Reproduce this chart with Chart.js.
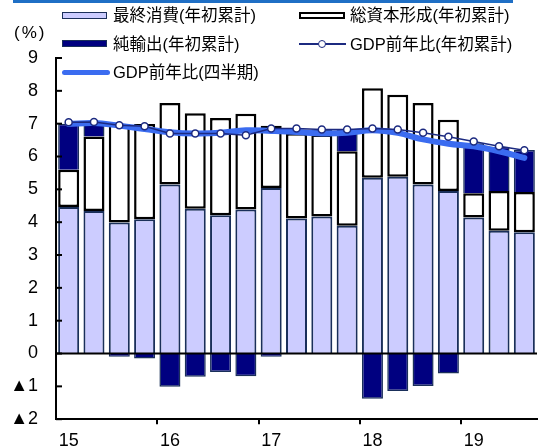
<!DOCTYPE html>
<html>
<head>
<meta charset="utf-8">
<script src="https://cdn.jsdelivr.net/npm/chart.js@4"></script>
<style>
  html, body { margin: 0; padding: 0; background: #fff; }
  #wrap { position: relative; width: 545px; height: 448px; overflow: hidden; }
  canvas { position: absolute; left: 0; top: 0; }
  .lg { position: absolute; font-family: "Liberation Sans", "Noto Sans CJK JP", sans-serif; font-size: 16.5px; color: #000; line-height: 18px; white-space: nowrap; }
  .mk { position: absolute; box-sizing: border-box; }
</style>
</head>
<body>
<div id="wrap">
  <canvas id="c" width="545" height="448"></canvas>
  <div class="mk" style="left:13px;top:0;width:500px;height:3px;background:#1f6fc5;"></div>
  <div class="lg" style="left:14px;top:24px;letter-spacing:2px;font-size:17px;">(%)</div>
  <div class="mk" style="left:62px;top:12px;width:45px;height:7px;background:#ccccff;border:1.5px solid #1a2f5a;"></div>
  <div class="lg" style="left:113px;top:6px;">最終消費(年初累計)</div>
  <div class="mk" style="left:299px;top:12px;width:46px;height:7px;background:#fff;border:2px solid #000;"></div>
  <div class="lg" style="left:350px;top:6px;">総資本形成(年初累計)</div>
  <div class="mk" style="left:62px;top:40px;width:45px;height:7px;background:#000080;border:1px solid #1a2f5a;"></div>
  <div class="lg" style="left:113px;top:35px;">純輸出(年初累計)</div>
  <div class="mk" style="left:299px;top:43px;width:47px;height:2px;background:#1c2a80;"></div>
  <div class="mk" style="left:318px;top:40px;width:8px;height:8px;background:#fff;border:1.5px solid #1c2a80;border-radius:50%;"></div>
  <div class="lg" style="left:350px;top:35px;">GDP前年比(年初累計)</div>
  <div class="mk" style="left:62px;top:69.5px;width:48px;height:5px;background:#3b6cf0;border-radius:3px;"></div>
  <div class="lg" style="left:113px;top:63px;">GDP前年比(四半期)</div>
</div>
<script>
// ---- data ----
const categories = ['2015Q1','2015Q2','2015Q3','2015Q4','2016Q1','2016Q2','2016Q3','2016Q4',
                    '2017Q1','2017Q2','2017Q3','2017Q4','2018Q1','2018Q2','2018Q3','2018Q4',
                    '2019Q1','2019Q2','2019Q3'];
const xTickLabels = ['15','','','','16','','','','17','','','','18','','','','19','',''];
const finalConsumption = [4.46, 4.34, 3.99, 4.09, 5.15, 4.41, 4.21, 4.39, 5.04, 4.11, 4.17, 3.89, 5.35, 5.38, 5.15, 4.95, 4.14, 3.74, 3.69];
const capitalFormation = [1.14, 2.27, 3.00, 2.90, 2.48, 2.91, 2.96, 2.91, 1.90, 2.60, 2.50, 2.27, 2.73, 2.50, 2.48, 2.17, 0.74, 1.21, 1.23];
const netExports       = [1.40, 0.44, -0.10, -0.15, -1.01, -0.71, -0.56, -0.69, -0.10, 0.10, 0.15, 0.65, -1.38, -1.14, -0.99, -0.61, 1.52, 1.35, 1.28];
const gdpCumulative    = [7.04, 7.05, 6.95, 6.92, 6.70, 6.70, 6.70, 6.65, 6.85, 6.85, 6.82, 6.82, 6.85, 6.82, 6.72, 6.60, 6.46, 6.31, 6.19];
const gdpQuarterly     = [6.99, 7.02, 6.94, 6.84, 6.74, 6.70, 6.72, 6.80, 6.78, 6.75, 6.70, 6.72, 6.80, 6.72, 6.52, 6.39, 6.31, 6.16, 5.96];
const yTicks = [-2, -1, 0, 1, 2, 3, 4, 5, 6, 7, 8, 9];

const FONT = "'Liberation Sans', 'DejaVu Sans', sans-serif";

const overlay = {
  id: 'overlay',
  afterDatasetsDraw(chart) {
    const ctx = chart.ctx, y = chart.scales.y, a = chart.chartArea;
    ctx.save();
    ctx.strokeStyle = '#000';
    ctx.lineWidth = 2;
    const y0 = y.getPixelForValue(0);
    ctx.beginPath(); ctx.moveTo(a.left, y0); ctx.lineTo(a.right, y0); ctx.stroke();
    yTicks.forEach(v => {
      const py = y.getPixelForValue(v);
      ctx.beginPath(); ctx.moveTo(a.left, py); ctx.lineTo(a.left + 6, py); ctx.stroke();
    });
    ctx.restore();
  }
};

new Chart(document.getElementById('c'), {
  type: 'bar',
  data: {
    labels: categories,
    datasets: [
      { label: '最終消費(年初累計)', data: finalConsumption, backgroundColor: '#ccccff',
        borderColor: '#1a2f5a', borderWidth: 2, borderSkipped: 'start', order: 3, stack: 'bars' },
      { label: '総資本形成(年初累計)', data: capitalFormation, backgroundColor: '#ffffff',
        borderColor: '#000000', borderWidth: 2.5, borderSkipped: false, order: 3, stack: 'bars' },
      { label: '純輸出(年初累計)', data: netExports, backgroundColor: '#000080',
        borderColor: '#1a2f5a', borderWidth: 1.5, borderSkipped: 'start', order: 3, stack: 'bars' },
      { type: 'line', label: 'GDP前年比(四半期)', data: gdpQuarterly, borderColor: '#3b6cf0',
        borderWidth: 6, pointRadius: 0, tension: 0.4, borderCapStyle: 'round', order: 2, stack: 'q' },
      { type: 'line', label: 'GDP前年比(年初累計)', data: gdpCumulative, borderColor: '#1c2a80',
        borderWidth: 1.5, pointRadius: 3.5, pointBackgroundColor: '#ffffff', pointBorderColor: '#1c2a80',
        pointBorderWidth: 1.5, tension: 0, order: 1, stack: 'c' }
    ]
  },
  options: {
    responsive: false,
    animation: false,
    layout: { padding: { top: 58, right: 8, left: 0, bottom: 0 } },
    datasets: { bar: { barPercentage: 0.83, categoryPercentage: 1.0 } },
    plugins: { legend: { display: false }, tooltip: { enabled: false }, title: { display: false } },
    scales: {
      x: {
        stacked: true,
        offset: true,
        afterFit: s => { s.height = 27; },
        grid: {
          offset: true, drawOnChartArea: false, tickLength: 5, lineWidth: 2,
          color: c => (c.index !== undefined && c.index > 0 && c.index % 4 === 0) ? '#000' : 'rgba(0,0,0,0)'
        },
        border: { display: true, color: '#000', width: 2 },
        ticks: {
          autoSkip: false, maxRotation: 0, minRotation: 0, padding: 6,
          color: '#000', font: { family: FONT, size: 18 },
          callback: (v, i) => xTickLabels[i]
        }
      },
      y: {
        stacked: true,
        min: -2, max: 9,
        afterFit: s => { s.width = 56; },
        afterBuildTicks: s => { s.ticks = yTicks.map(v => ({ value: v })); },
        grid: { drawTicks: false, drawOnChartArea: false },
        border: { display: true, color: '#000', width: 2 },
        ticks: {
          padding: 18, color: '#000', font: { family: FONT, size: 18 },
          callback: v => v < 0 ? '▲' + Math.abs(v) : String(v)
        }
      }
    }
  },
  plugins: [overlay]
});
</script>
</body>
</html>
